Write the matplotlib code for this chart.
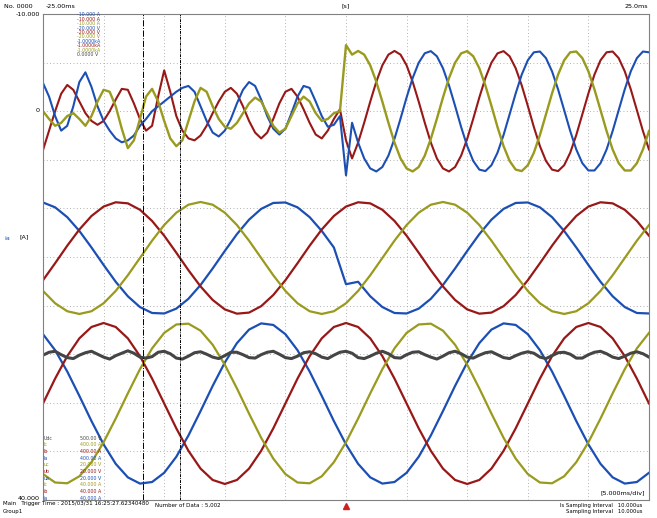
import numpy as np
import matplotlib.pyplot as plt

# time axis in ms, values in the scope's main scale (-10 ... 40)
t = np.arange(-25, 26)
t_fine = np.arange(-25, 25.5, 0.5)

# lower group (large sinusoids)
ua = [22.94, 24.59, 26.78, 29.29, 31.88, 34.28, 36.28, 37.67, 38.31, 38.15,
      37.20, 35.55, 33.36, 30.85, 28.26, 25.86, 23.86, 22.47, 21.83, 21.99,
      22.94, 24.59, 26.78, 29.29, 31.88, 34.28, 36.28, 37.67, 38.31, 38.15,
      37.20, 35.55, 33.36, 30.85, 28.26, 25.86, 23.86, 22.47, 21.83, 21.99,
      22.94, 24.59, 26.78, 29.29, 31.88, 34.28, 36.28, 37.67, 38.31, 38.15, 37.20]
ub = [30.07, 27.51, 25.20, 23.37, 22.20, 21.79, 22.20, 23.37, 25.20, 27.51,
      30.07, 32.63, 34.94, 36.77, 37.94, 38.35, 37.94, 36.77, 34.94, 32.63,
      30.07, 27.51, 25.20, 23.37, 22.20, 21.79, 22.20, 23.37, 25.20, 27.51,
      30.07, 32.63, 34.94, 36.77, 37.94, 38.35, 37.94, 36.77, 34.94, 32.63,
      30.07, 27.51, 25.20, 23.37, 22.20, 21.79, 22.20, 23.37, 25.20, 27.51, 30.07]
uc = [37.33, 38.20, 38.28, 37.56, 36.11, 34.06, 31.62, 29.03, 26.54, 24.40,
      22.81, 21.94, 21.86, 22.58, 24.03, 26.08, 28.52, 31.11, 33.60, 35.74,
      37.33, 38.20, 38.28, 37.56, 36.11, 34.06, 31.62, 29.03, 26.54, 24.40,
      22.81, 21.94, 21.86, 22.58, 24.03, 26.08, 28.52, 31.11, 33.60, 35.74,
      37.33, 38.20, 38.28, 37.56, 36.11, 34.06, 31.62, 29.03, 26.54, 24.40, 22.81]

# middle group
va = [9.39, 9.89, 10.90, 12.32, 14.02, 15.82, 17.55, 19.04, 20.15, 20.76,
      20.81, 20.31, 19.30, 17.88, 16.18, 14.38, 12.65, 11.16, 10.05, 9.44,
      9.39, 9.89, 10.90, 12.32, 14.02, 17.80, 17.55, 19.04, 20.15, 20.76,
      20.81, 20.31, 19.30, 17.88, 16.18, 14.38, 12.65, 11.16, 10.05, 9.44,
      9.39, 9.89, 10.90, 12.32, 14.02, 15.82, 17.55, 19.04, 20.15, 20.76, 20.81]
vb = [17.39, 15.64, 13.84, 12.17, 10.78, 9.81, 9.37, 9.48, 10.14, 11.29,
      12.81, 14.56, 16.36, 18.03, 19.42, 20.39, 20.83, 20.72, 20.06, 18.91,
      17.39, 15.64, 13.84, 12.17, 10.78, 9.81, 9.37, 9.48, 10.14, 11.29,
      12.81, 14.56, 16.36, 18.03, 19.42, 20.39, 20.83, 20.72, 20.06, 18.91,
      17.39, 15.64, 13.84, 12.17, 10.78, 9.81, 9.37, 9.48, 10.14, 11.29, 12.81]
vc = [18.49, 19.76, 20.58, 20.86, 20.58, 19.76, 18.49, 16.88, 15.10, 13.32,
      11.71, 10.44, 9.62, 9.34, 9.62, 10.44, 11.71, 13.32, 15.10, 16.88,
      18.49, 19.76, 20.58, 20.86, 20.58, 19.76, 18.49, 16.88, 15.10, 13.32,
      11.71, 10.44, 9.62, 9.34, 9.62, 10.44, 11.71, 13.32, 15.10, 16.88,
      18.49, 19.76, 20.58, 20.86, 20.58, 19.76, 18.49, 16.88, 15.10, 13.32, 11.71]

# upper group, 0.5 ms steps (distorted before trigger, sinusoidal after)
ia = [-2.9, -1.5, 0.5, 2.0, 1.5, -0.5, -3.0, -4.0, -2.5, -0.5,
      1.0, 2.0, 2.8, 3.2, 3.0, 2.5, 1.5, 0.8, 0.0, -0.5,
      -1.0, -1.5, -2.0, -2.4, -2.6, -2.0, -0.5, 1.0, 2.2, 2.6,
      2.0, 0.8, -0.8, -2.2, -3.0, -2.6, -1.2, 0.5, 1.8, 2.4,
      1.8, 0.2, -1.5, -2.6, -2.4, -1.0, 0.5, 1.6, 1.4, 0.5,
      6.6,
      1.19, 3.23, 4.86, 5.89, 6.20, 5.74, 4.57, 2.84, 0.76, -1.42,
      -3.41, -4.99, -5.96, -6.18, -5.65, -4.42, -2.65, -0.55, 1.63, 3.59,
      5.12, 6.01, 6.16, 5.56, 4.27, 2.45, 0.32, -1.83, -3.77, -5.24,
      -6.06, -6.14, -5.46, -4.10, -2.24, -0.11, 2.04, 3.94, 5.35, 6.10,
      6.10, 5.35, 3.94, 2.04, -0.11, -2.25, -4.11, -5.46, -6.14, -6.06]
ib = [4.0, 2.0, 0.0, -1.8, -2.7, -2.2, -1.0, 0.2, 1.0, 1.4,
      1.0, 0.0, -1.2, -2.3, -2.2, -0.8, 0.8, 2.0, 1.5, -1.5,
      -4.2, -2.0, 0.5, 2.0, 2.8, 3.0, 2.5, 1.5, 0.2, -1.0,
      -2.0, -2.4, -1.8, -0.5, 1.0, 2.2, 2.8, 2.2, 0.8, -0.8,
      -2.0, -2.3, -1.5, -0.2, 1.2, 2.4, 2.8, 2.0, 0.8, -0.2,
      3.0,
      4.86, 3.23, 1.19, -0.98, -3.03, -4.72, -5.82, -6.2, -5.82, -4.72,
      -3.03, -0.98, 1.19, 3.23, 4.86, 5.89, 6.20, 5.74, 4.57, 2.84,
      0.77, -1.41, -3.41, -4.99, -5.95, -6.18, -5.65, -4.42, -2.65, -0.55,
      1.63, 3.59, 5.12, 6.01, 6.16, 5.56, 4.27, 2.45, 0.32, -1.83,
      -3.77, -5.24, -6.06, -6.14, -5.46, -4.10, -2.24, -0.11, 2.04, 3.94]
ic = [0.0, 0.8, 1.5, 1.2, 0.5, 0.2, 0.8, 1.5, 0.5, -1.0,
      -2.2, -2.0, -0.5, 1.8, 3.8, 3.0, 0.8, -1.5, -2.3, -1.0,
      1.0, 2.8, 3.6, 3.0, 1.0, -1.0, -2.4, -2.0, -0.5, 0.8,
      1.6, 1.8, 1.2, 0.2, -0.8, -1.4, -1.0, 0.2, 1.5, 2.2,
      1.8, 0.5, -0.8, -1.5, -1.0, 0.2, 1.0, 0.8, 0.2, 0.0,
      -6.8,
      -5.82, -6.2, -5.82, -4.72, -3.03, -0.98, 1.19, 3.23, 4.86, 5.89,
      6.20, 5.74, 4.57, 2.84, 0.77, -1.41, -3.41, -4.99, -5.95, -6.18,
      -5.65, -4.42, -2.65, -0.55, 1.63, 3.59, 5.12, 6.01, 6.16, 5.56,
      4.27, 2.45, 0.32, -1.83, -3.77, -5.24, -6.06, -6.14, -5.46, -4.10,
      -2.24, -0.11, 2.04, 3.94, 5.35, 6.10, 6.10, 5.35, 3.94, 2.04]

# dc link, 0.5 ms steps
udc = [25.1, 24.8, 24.7, 25.05, 25.35, 25.45, 25.1, 24.85, 24.7, 25.0,
       25.3, 25.5, 25.15, 24.9, 24.65, 24.9, 25.3, 25.4, 25.25, 24.8,
       24.7, 24.95, 25.4, 25.5, 25.2, 24.85, 24.75, 25.0, 25.3, 25.45,
       25.15, 24.8, 24.8, 25.05, 25.35, 25.4, 25.05, 24.8, 24.7, 25.0,
       25.35, 25.45, 25.2, 24.85, 24.75, 24.95, 25.3, 25.45, 25.1, 24.8,
       24.7, 24.9, 25.35, 25.45, 25.2, 24.9, 24.7, 24.95, 25.35, 25.4,
       25.05, 24.8, 24.75, 25.05, 25.3, 25.5, 25.2, 24.85, 24.7, 24.95,
       25.3, 25.4, 25.1, 24.85, 24.75, 25.05, 25.35, 25.45, 25.15, 24.9,
       24.75, 24.9, 25.3, 25.45, 25.15, 24.85, 24.8, 25.0, 25.4, 25.4,
       25.05, 24.8, 24.7, 24.95, 25.3, 25.45, 25.2, 24.9, 24.75, 24.95, 25.3]

cursors = [-16.75, -13.7]

top_labels = ['-10.000 A', '-10.000 A', '-10.000 A', '-20.000 V', '-20.000 V',
              '-20.000 V', '-1.0000kA', '-1.0000kA', '-1.0000kA', '0.0000 V']
bot_names = ['Udc', 'Ic', 'Ib', 'Ia', 'uc', 'ub', 'ua', 'ic', 'ib', 'ia']
bot_labels = ['500.00 V', '400.00 A', '400.00 A', '400.00 A', '20.000 V',
              '20.000 V', '20.000 V', '40.000 A', '40.000 A', '40.000 A']

BLUE = '#1c4fb4'
RED = '#981818'
OLIVE = '#9a9a1e'
GRAY = '#454545'
top_colors = [BLUE, RED, OLIVE] * 3 + [GRAY]
bot_colors = [GRAY] + [OLIVE, RED, BLUE] * 3

W, H = 657, 518
fig = plt.figure(figsize=(W / 100, H / 100), dpi=100)
ax = fig.add_axes([43 / W, 1 - 500 / H, 606 / W, 486 / H])

ax.plot(t, ua, color=BLUE, lw=1.6)
ax.plot(t, ub, color=RED, lw=1.6)
ax.plot(t, uc, color=OLIVE, lw=1.6)
ax.plot(t, va, color=BLUE, lw=1.6)
ax.plot(t, vb, color=RED, lw=1.6)
ax.plot(t, vc, color=OLIVE, lw=1.6)
ax.plot(t_fine, udc, color=GRAY, lw=2.2)
ax.plot(t_fine, ib, color=RED, lw=1.5)
ax.plot(t_fine, ia, color=BLUE, lw=1.5)
ax.plot(t_fine, ic, color=OLIVE, lw=1.7)

ax.axvline(cursors[0], color='k', lw=0.7, ls='-.')
ax.axvline(cursors[1], color='k', lw=0.7, ls=(0, (3, 1, 1, 1)))

ax.set_xlim(-25, 25)
ax.set_ylim(40, -10)
ax.set_xticks(np.arange(-20, 25, 5))
ax.set_yticks(np.arange(-5, 40, 5))
ax.tick_params(length=0, labelbottom=False, labelleft=False)
ax.grid(True, color='#999999', lw=0.6, ls=(0, (1, 3)))
for s in ax.spines.values():
    s.set_color('#808080')
    s.set_linewidth(0.8)

# trigger mark
ax.plot([0], [40.6], marker='^', color='#d02020', ms=4, clip_on=False)


def px(x, y, s, **kw):
    kw.setdefault('fontsize', 4.6)
    kw.setdefault('va', 'center')
    fig.text(x / W, 1 - y / H, s, **kw)


px(4, 6, 'No. 0000')
px(46, 6, '-25.00ms')
px(346, 6, '[s]', ha='center')
px(648, 6, '25.0ms', ha='right')
px(40, 15, '-10.000', ha='right')
px(40, 111, '0', ha='right')
px(40, 498, '40.000', ha='right')
px(20, 237, '[A]')
px(4, 238, 'ia', color=BLUE)
px(3, 504, 'Main   Trigger Time : 2015/03/31 16:25:27.62340480', fontsize=4)
px(3, 512, 'Group1', fontsize=4)
px(155, 505, 'Number of Data : 5,002', fontsize=4)
px(642, 506, 'ls Sampling Interval   10.000us', ha='right', fontsize=3.8)
px(642, 512, 'Sampling Interval   10.000us', ha='right', fontsize=3.8)
px(645, 493, '[5.000ms/div]', ha='right')

for i, (s, c) in enumerate(zip(top_labels, top_colors)):
    px(77, 15 + 4.4 * i, s, color=c, fontsize=3.4)
for i, (n, s, c) in enumerate(zip(bot_names, bot_labels, bot_colors)):
    px(44, 438 + 6.7 * i, n, color=c, fontsize=3.4)
    px(80, 438 + 6.7 * i, s, color=c, fontsize=3.4)

fig.savefig('out.png', dpi=100)
